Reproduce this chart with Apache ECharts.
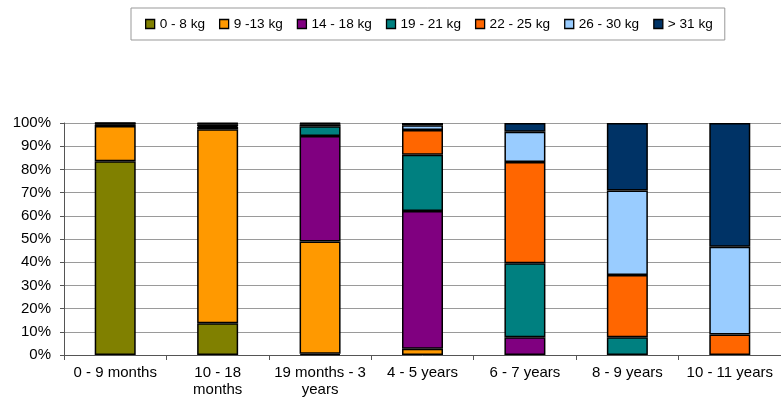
<!DOCTYPE html>
<html>
<head>
<meta charset="utf-8">
<script src="https://cdn.jsdelivr.net/npm/echarts@6/dist/echarts.min.js"></script>
<style>
  html, body { margin: 0; padding: 0; background: #fff; }
  #chart { width: 781px; height: 398px; }
</style>
</head>
<body>
<div id="chart"></div>
<script>
// Age groups along the x axis
const ageGroups = ['0 - 9 months', '10 - 18\nmonths', '19 months - 3\nyears', '4 - 5 years', '6 - 7 years', '8 - 9 years', '10 - 11 years'];

// Share of children (%) in each weight band, per age group
const w0to8   = [83.5, 13.7, 0.5, 0, 0, 0, 0];
const w9to13  = [15.2, 83.6, 48.4, 2.7, 0, 0, 0];
const w14to18 = [0.7, 1.0, 45.5, 59.4, 7.6, 0, 0];
const w19to21 = [0.3, 0.4, 4.2, 24.2, 32.0, 7.6, 0];
const w22to25 = [0.2, 0.8, 0.8, 10.7, 43.6, 26.9, 8.8];
const w26to30 = [0.1, 0.3, 0.3, 2.0, 13.0, 36.4, 37.9];
const w31plus = [0, 0.2, 0.3, 1.0, 3.8, 29.1, 53.3];

const bandNames = ['0 - 8 kg', '9 -13 kg', '14 - 18 kg', '19 - 21 kg', '22 - 25 kg', '26 - 30 kg', '> 31 kg'];
const bandValues = [w0to8, w9to13, w14to18, w19to21, w22to25, w26to30, w31plus];
const bandColors = ['#808000', '#FF9900', '#800080', '#008080', '#FF6600', '#99CCFF', '#003366'];

const yTicks = [0, 10, 20, 30, 40, 50, 60, 70, 80, 90, 100];

const font = 'Liberation Sans, Arial, sans-serif';

const chart = echarts.init(document.getElementById('chart'), null, { renderer: 'canvas' });

chart.setOption({
  animation: false,
  backgroundColor: '#ffffff',
  textStyle: { fontFamily: font },
  legend: {
    top: 8,
    left: 131,
    padding: [9, 12, 9, 14],
    borderColor: '#999999',
    borderWidth: 1,
    itemWidth: 9,
    itemHeight: 9,
    itemGap: 14,
    icon: 'rect',
    textStyle: { fontFamily: font, fontSize: 13.6, color: '#000' },
    data: bandNames.map((n, i) => ({
      name: n,
      itemStyle: { color: bandColors[i], borderColor: '#000', borderWidth: 1.3 }
    }))
  },
  grid: { left: 64, top: 123, width: 721, height: 234, containLabel: false },
  xAxis: {
    type: 'category',
    data: ageGroups,
    axisLine: { lineStyle: { color: '#555', width: 1 } },
    axisTick: { show: true, length: 5, lineStyle: { color: '#555' } },
    axisLabel: { fontFamily: font, fontSize: 15, color: '#000', margin: 9, lineHeight: 17, interval: 0 }
  },
  yAxis: {
    type: 'value',
    min: 0,
    max: 100,
    interval: 10,
    axisLine: { show: true, lineStyle: { color: '#555', width: 1 } },
    axisTick: { show: true, length: 4, lineStyle: { color: '#555' } },
    splitLine: { lineStyle: { color: '#9a9a9a', width: 1 } },
    axisLabel: {
      fontFamily: font, fontSize: 15, color: '#000', margin: 13,
      formatter: v => yTicks.includes(v) ? v + '%' : ''
    }
  },
  series: bandNames.map((n, i) => ({
    name: n,
    type: 'bar',
    stack: 'total',
    barWidth: 41,
    // empty bands are left out so they do not draw a stray outline
    data: bandValues[i].map(v => (v > 0 ? v : null)),
    itemStyle: { color: bandColors[i], borderColor: '#000', borderWidth: 1.5 }
  }))
});
</script>
</body>
</html>
